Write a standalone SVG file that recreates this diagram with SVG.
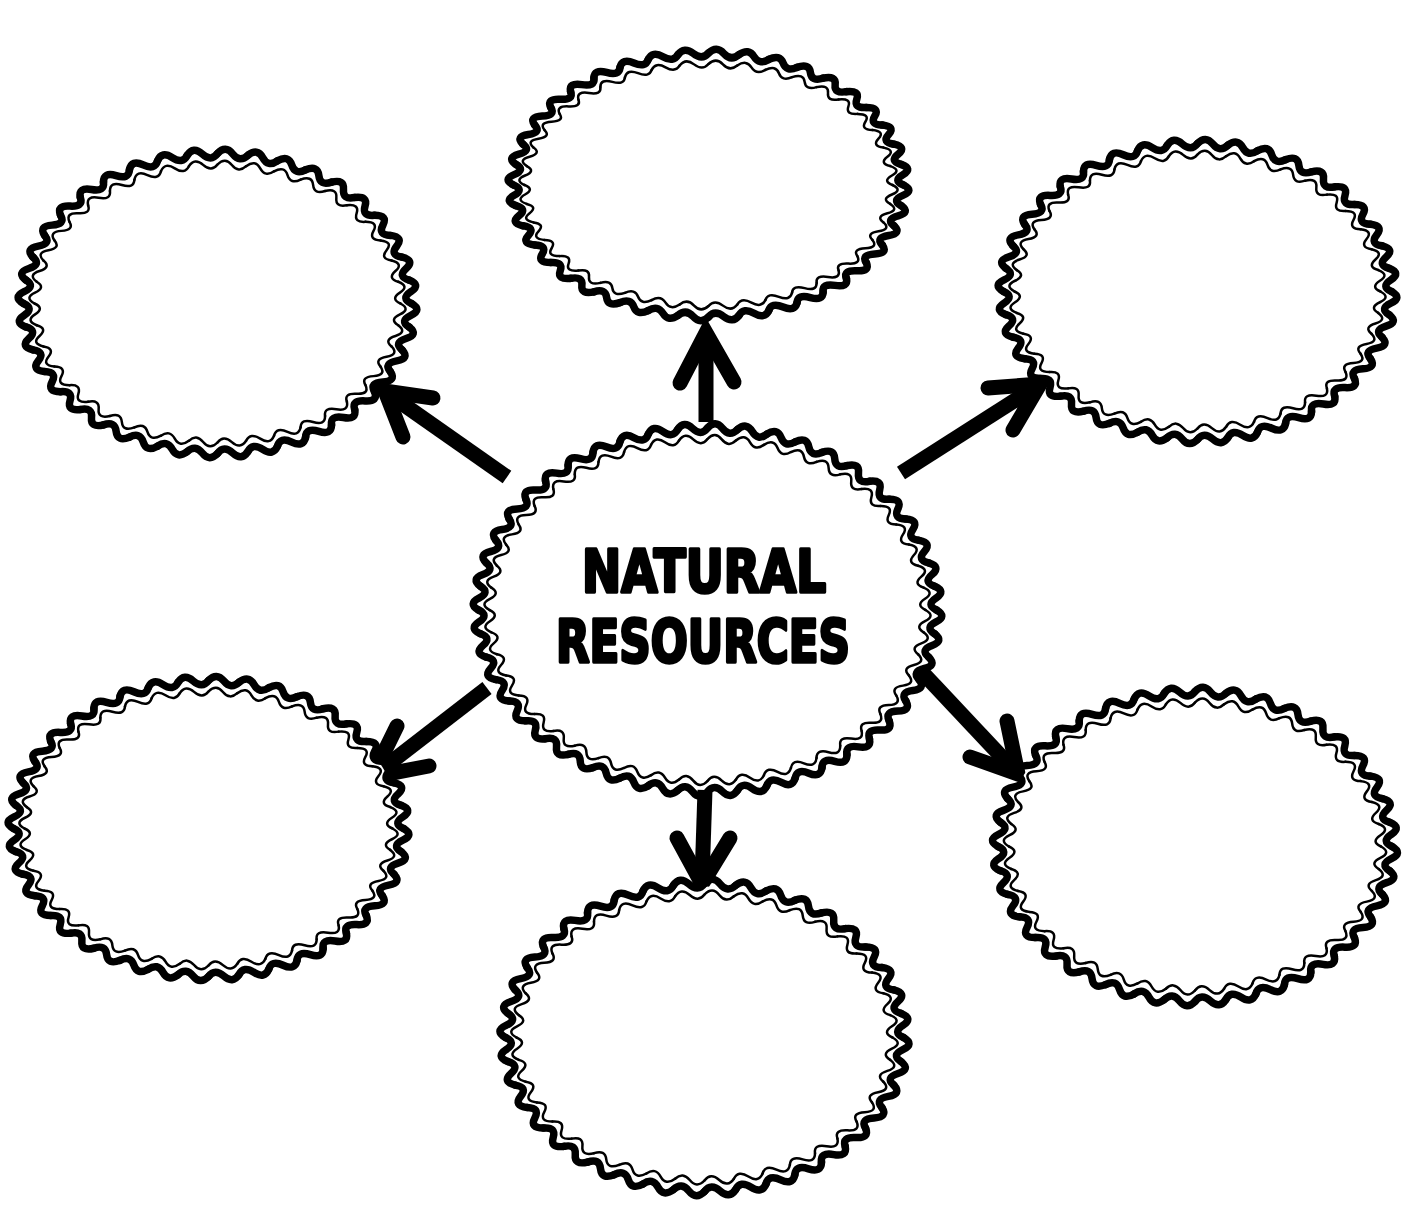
<svg xmlns="http://www.w3.org/2000/svg" xmlns:xlink="http://www.w3.org/1999/xlink" width="1414" height="1205" viewBox="0 0 1414 1205">
<style>
.outer{stroke:#000;stroke-width:7.5;fill:none;stroke-linecap:round;stroke-linejoin:round}
.inner{stroke:#000;stroke-width:2.5;fill:none;stroke-linecap:round;stroke-linejoin:round}
.shaft{stroke:#000;stroke-width:15;fill:none;stroke-linecap:butt}
.head{stroke:#000;stroke-width:15;fill:none;stroke-linecap:round;stroke-linejoin:miter;stroke-miterlimit:10}
.title{font-family:"DejaVu Sans","Liberation Sans",sans-serif;font-weight:bold;font-size:58px;fill:#000;stroke:#000;stroke-width:3.5;stroke-linejoin:round}
</style>
<defs>
<path id="w40" d="M100,0 Q105.718,4.154 99.69,7.846 T98.77,15.643" vector-effect="non-scaling-stroke"/>
<g id="g5">
<use xlink:href="#w40"/>
<use xlink:href="#w40" transform="rotate(9)"/>
<use xlink:href="#w40" transform="rotate(18)"/>
<use xlink:href="#w40" transform="rotate(27)"/>
<use xlink:href="#w40" transform="rotate(36)"/>
</g>
<g id="ring40">
<use xlink:href="#g5"/>
<use xlink:href="#g5" transform="rotate(45)"/>
<use xlink:href="#g5" transform="rotate(90)"/>
<use xlink:href="#g5" transform="rotate(135)"/>
<use xlink:href="#g5" transform="rotate(180)"/>
<use xlink:href="#g5" transform="rotate(225)"/>
<use xlink:href="#g5" transform="rotate(270)"/>
<use xlink:href="#g5" transform="rotate(315)"/>
</g>
<path id="w48" d="M100,0 Q104.744,3.429 99.786,6.540 T99.145,13.053" vector-effect="non-scaling-stroke"/>
<g id="g6">
<use xlink:href="#w48"/>
<use xlink:href="#w48" transform="rotate(7.5)"/>
<use xlink:href="#w48" transform="rotate(15)"/>
<use xlink:href="#w48" transform="rotate(22.5)"/>
<use xlink:href="#w48" transform="rotate(30)"/>
<use xlink:href="#w48" transform="rotate(37.5)"/>
</g>
<g id="ring48">
<use xlink:href="#g6"/>
<use xlink:href="#g6" transform="rotate(45)"/>
<use xlink:href="#g6" transform="rotate(90)"/>
<use xlink:href="#g6" transform="rotate(135)"/>
<use xlink:href="#g6" transform="rotate(180)"/>
<use xlink:href="#g6" transform="rotate(225)"/>
<use xlink:href="#g6" transform="rotate(270)"/>
<use xlink:href="#g6" transform="rotate(315)"/>
</g>
</defs>
<rect width="1414" height="1205" fill="#ffffff"/>

<g id="connectors">
<line class="shaft" x1="706" y1="422" x2="706" y2="336"/>
<polyline class="head" points="680,383 706,333 734,382"/>
<line class="shaft" x1="507" y1="477" x2="390" y2="395"/>
<polyline class="head" points="433,398 385,391 403,437"/>
<line class="shaft" x1="901" y1="473" x2="1036" y2="387"/>
<polyline class="head" points="988,388 1040,384 1013,430"/>
<line class="shaft" x1="487" y1="688" x2="377" y2="773"/>
<polyline class="head" points="397,726 372,777 429,766"/>
<line class="shaft" x1="921" y1="671" x2="1014" y2="770"/>
<polyline class="head" points="1007,721 1018,774 970,757"/>
<line class="shaft" x1="705" y1="790" x2="702" y2="880"/>
<polyline class="head" points="677,838 702,884 730,838"/>
</g>

<g id="node-center">
<ellipse cx="707.5" cy="610" rx="226" ry="179" fill="#fff"/>
<use xlink:href="#ring48" class="outer" transform="translate(707.5,610) scale(2.29,1.82)"/>
<use xlink:href="#ring48" class="inner" transform="translate(707.5,610) scale(2.18,1.71)"/>
<text class="title" x="704" y="592" text-anchor="middle" textLength="244" lengthAdjust="spacingAndGlyphs">NATURAL</text>
<text class="title" x="703" y="662" text-anchor="middle" textLength="294" lengthAdjust="spacingAndGlyphs">RESOURCES</text>
</g>

<g id="node-top">
<ellipse cx="708.5" cy="185" rx="192" ry="129" fill="#fff"/>
<use xlink:href="#ring40" class="outer" transform="translate(708.5,185) scale(1.95,1.32)"/>
<use xlink:href="#ring40" class="inner" transform="translate(708.5,185) scale(1.84,1.21)"/>
</g>

<g id="node-top-left">
<ellipse cx="217.5" cy="303.5" rx="191" ry="147" fill="#fff"/>
<use xlink:href="#ring40" class="outer" transform="translate(217.5,303.5) scale(1.94,1.50)"/>
<use xlink:href="#ring40" class="inner" transform="translate(217.5,303.5) scale(1.83,1.39)"/>
</g>

<g id="node-top-right">
<ellipse cx="1197.5" cy="291.5" rx="191" ry="145" fill="#fff"/>
<use xlink:href="#ring40" class="outer" transform="translate(1197.5,291.5) scale(1.94,1.48)"/>
<use xlink:href="#ring40" class="inner" transform="translate(1197.5,291.5) scale(1.83,1.37)"/>
</g>

<g id="node-bottom-left">
<ellipse cx="208.5" cy="828.5" rx="192" ry="145" fill="#fff"/>
<use xlink:href="#ring40" class="outer" transform="translate(208.5,828.5) scale(1.95,1.48)"/>
<use xlink:href="#ring40" class="inner" transform="translate(208.5,828.5) scale(1.84,1.37)"/>
</g>

<g id="node-bottom-right">
<ellipse cx="1195" cy="846.5" rx="194" ry="152" fill="#fff"/>
<use xlink:href="#ring40" class="outer" transform="translate(1195,846.5) scale(1.97,1.55)"/>
<use xlink:href="#ring40" class="inner" transform="translate(1195,846.5) scale(1.86,1.44)"/>
</g>

<g id="node-bottom">
<ellipse cx="704.5" cy="1037.5" rx="196" ry="151" fill="#fff"/>
<use xlink:href="#ring40" class="outer" transform="translate(704.5,1037.5) scale(1.99,1.54)"/>
<use xlink:href="#ring40" class="inner" transform="translate(704.5,1037.5) scale(1.88,1.43)"/>
</g>
</svg>
